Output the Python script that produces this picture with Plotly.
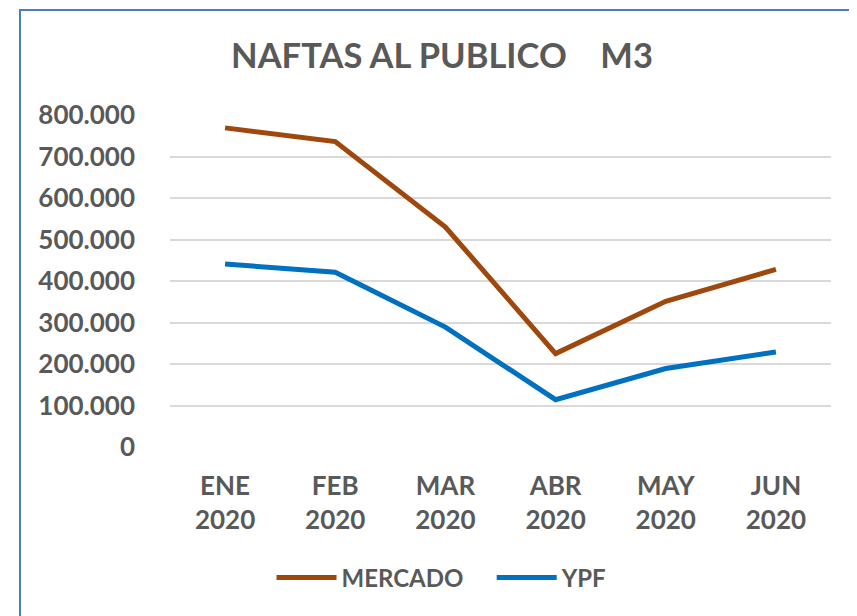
import plotly.graph_objects as go

categories = ["ENE<br>2020", "FEB<br>2020", "MAR<br>2020", "ABR<br>2020", "MAY<br>2020", "JUN<br>2020"]
mercado = [769000, 736000, 530000, 225000, 351000, 428000]
ypf = [441000, 421000, 289000, 114000, 189000, 229000]
y_ticks = [0, 100000, 200000, 300000, 400000, 500000, 600000, 700000, 800000]

FONT = "Lato"
GREY = "#595959"

fig = go.Figure()
fig.add_trace(go.Scatter(x=categories, y=mercado, mode="lines",
                         name="MERCADO\u00a0\u00a0\u00a0\u00a0",
                         line=dict(color="#9E480E", width=5)))
fig.add_trace(go.Scatter(x=categories, y=ypf, mode="lines", name="YPF",
                         line=dict(color="#0070C0", width=5)))

# page body has an 8px margin; figure coords = window coords - 8
OFF = 8
W, H = 849, 608
L, T = 170 - OFF, 115 - OFF
R = W - (831 - OFF)
B = H - (447 - OFF)
pw, ph = W - L - R, H - T - B

def px2paper_x(px):
    return (px - OFF - L) / pw

def px2paper_y(py):
    return (H - B - (py - OFF)) / ph

fig.update_layout(
    width=W, height=H,
    margin=dict(l=L, r=R, t=T, b=B, pad=0),
    paper_bgcolor="white", plot_bgcolor="white",
    separators=",.",
    font=dict(family=FONT, color=GREY),
    title=dict(text="<b>NAFTAS AL PUBLICO\u00a0\u00a0\u00a0\u00a0M3</b>",
               xref="container", x=(442 - OFF) / W, xanchor="center",
               yref="container", y=1 - (56 - OFF) / H, yanchor="middle",
               font=dict(family=FONT, size=34.5, color=GREY)),
    xaxis=dict(range=[-0.5, 5.5], showgrid=False, showline=False, zeroline=False,
               ticks="", ticklabelstandoff=21,
               tickfont=dict(family=FONT, size=26, color=GREY, weight="bold")),
    yaxis=dict(range=[0, 800000], tickvals=y_ticks, tickformat=",d",
               showgrid=True, gridcolor="#D9D9D9", gridwidth=1.5,
               zeroline=False, showline=False, ticks="", ticklabelstandoff=34,
               tickfont=dict(family=FONT, size=26, color=GREY, weight="bold")),
    legend=dict(orientation="h", x=px2paper_x(442), xanchor="center",
                y=px2paper_y(578), yanchor="middle",
                font=dict(family=FONT, size=24, color=GREY, weight="bold"),
                itemwidth=60, bgcolor="rgba(0,0,0,0)"),
    shapes=[dict(type="rect", xref="paper", yref="paper",
                 x0=px2paper_x(20), x1=px2paper_x(880),
                 y0=px2paper_y(640), y1=px2paper_y(10),
                 line=dict(color="#4A7EC4", width=2), fillcolor="rgba(0,0,0,0)",
                 layer="below")],
)

fig.write_html("out.html")
